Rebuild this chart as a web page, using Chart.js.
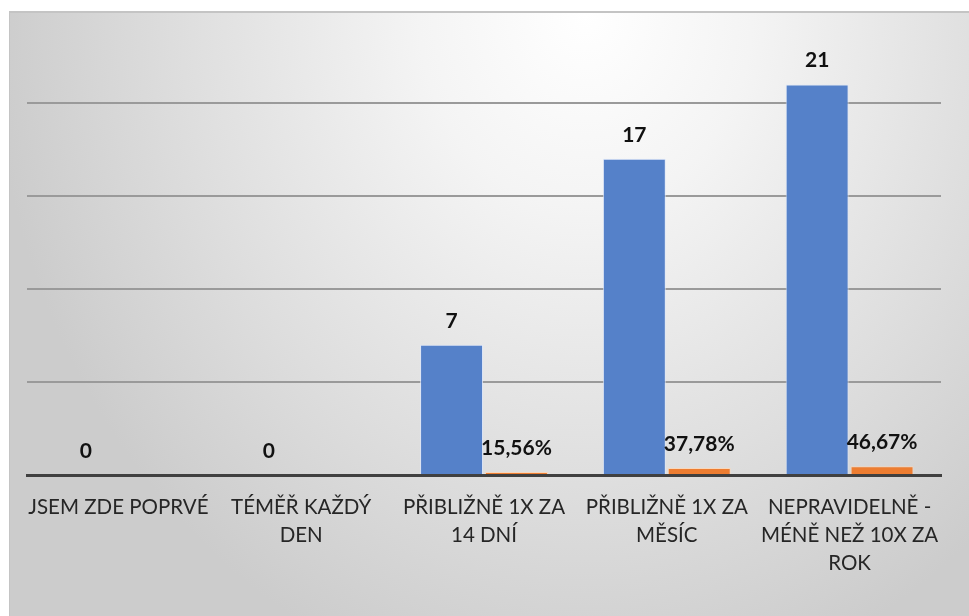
<!DOCTYPE html>
<html>
<head>
<meta charset="utf-8">
<script src="https://cdn.jsdelivr.net/npm/chart.js@4/dist/chart.umd.min.js"></script>
<style>
  html, body { margin:0; padding:0; background:#fff; }
  #frame {
    position:absolute; left:9px; top:11px; width:960px; height:605px;
    background: radial-gradient(ellipse 62% 115% at 60% 0%, #ffffff 0%, #f4f4f4 28%, #dedede 68%, #cccccc 100%);
    border-left:1px solid #c4c4c4;
    border-top:2px solid #c4c4c4;
    box-sizing:border-box;
  }
  #wrap { position:absolute; left:0; top:0; width:969px; height:616px; }
</style>
</head>
<body>
<div id="frame"></div>
<div id="wrap"><canvas id="chart" width="969" height="616"></canvas></div>
<script>
// categories (x axis, already split into lines like the original)
const categories = [
  ["JSEM ZDE POPRVÉ"],
  ["TÉMĚŘ KAŽDÝ", "DEN"],
  ["PŘIBLIŽNĚ 1X ZA", "14 DNÍ"],
  ["PŘIBLIŽNĚ 1X ZA", "MĚSÍC"],
  ["NEPRAVIDELNĚ -", "MÉNĚ NEŽ 10X ZA", "ROK"]
];
// counts and shares
const counts = [0, 0, 7, 17, 21];
const shares = [0, 0, 0.1556, 0.3778, 0.4667];

// labels above bars
const barLabels = {
  id: 'barLabels',
  afterDatasetsDraw(chart) {
    const ctx = chart.ctx;
    ctx.save();
    ctx.font = 'bold 21px Lato';
    ctx.fillStyle = '#111';
    ctx.textAlign = 'center';
    ctx.textBaseline = 'middle';
    chart.data.datasets.forEach((ds, i) => {
      chart.getDatasetMeta(i).data.forEach((el, j) => {
        const v = ds.data[j];
        let txt;
        if (i === 0) txt = String(v);
        else {
          if (!v) return;
          txt = (v * 100).toFixed(2).replace('.', ',') + '%';
        }
        ctx.fillText(txt, el.x, el.y - 24);
      });
    });
    ctx.restore();
  }
};

new Chart(document.getElementById('chart'), {
  type: 'bar',
  data: {
    labels: categories,
    datasets: [
      { label: 'Počet', data: counts, backgroundColor: '#5581c9', borderColor: 'rgba(220,230,250,0.8)', borderWidth: 1,
        categoryPercentage: 0.71, barPercentage: 0.97 },
      { label: 'Podíl', data: shares, backgroundColor: '#ed7d31', borderColor: 'rgba(250,215,185,0.9)', borderWidth: 1,
        categoryPercentage: 0.71, barPercentage: 0.97 }
    ]
  },
  options: {
    responsive: false,
    animation: false,
    layout: { padding: { left: 27, right: 28, top: 10, bottom: 0 } },
    plugins: { legend: { display: false }, tooltip: { enabled: false } },
    scales: {
      x: {
        grid: { display: false, drawTicks: false },
        border: { display: true, color: '#404040', width: 3 },
        ticks: { padding: 18, color: '#262626', font: { family: 'Lato', size: 20.5, lineHeight: 1.37 }, maxRotation: 0, autoSkip: false },
        afterFit(scale) { scale.height = 141; }
      },
      y: {
        min: 0, max: 25,
        ticks: { display: false, stepSize: 5 },
        border: { display: false },
        grid: {
          drawTicks: false, lineWidth: 2,
          color: c => (c.tick.value === 0 || c.tick.value === 25) ? 'rgba(0,0,0,0)' : '#9a9a9a'
        },
        afterFit(scale) { scale.width = 0; }
      }
    }
  },
  plugins: [barLabels]
});
</script>
</body>
</html>
